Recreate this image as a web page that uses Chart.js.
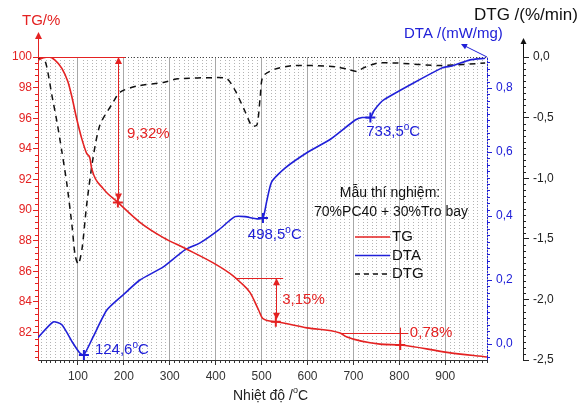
<!DOCTYPE html>
<html>
<head>
<meta charset="utf-8">
<script src="https://cdn.jsdelivr.net/npm/chart.js@4"></script>
<style>
  html, body { margin: 0; padding: 0; background: #fff; }
</style>
</head>
<body>
<canvas id="chart" width="582" height="404"></canvas>
<script>
// TG curve (% mass)
const tgTemp = [13, 25, 37, 50, 65, 78, 86, 97, 108, 119, 126, 130, 155, 187, 235, 286, 333, 403, 438, 453, 475, 493, 503, 531, 599, 671, 686, 758, 802, 904, 991];
const tgValue = [99.8, 99.95, 100, 99.8, 99.26, 98.4, 97.5, 96.0, 94.7, 93.7, 93.4, 92.7, 91.4, 90.5, 89.2, 88.2, 87.5, 86.4, 85.7, 85.3, 84.6, 83.5, 82.9, 82.7, 82.3, 81.96, 81.7, 81.24, 81.18, 80.7, 80.4];

// DTA curve (mW/mg)
const dtaTemp = [13, 46, 65, 89, 104, 113, 133, 163, 198, 235, 286, 333, 366, 406, 442, 464, 490, 503, 511, 522, 551, 602, 650, 704, 719, 737, 745, 766, 893, 915, 954, 987];
const dtaValue = [0.02, 0.069, 0.06, 0.003, -0.028, -0.034, 0.022, 0.106, 0.153, 0.2, 0.241, 0.294, 0.316, 0.356, 0.398, 0.398, 0.391, 0.394, 0.445, 0.507, 0.55, 0.601, 0.64, 0.70, 0.708, 0.708, 0.73, 0.763, 0.863, 0.869, 0.888, 0.893];

// DTG curve (%/min)
const dtgTemp = [13, 24, 32, 43, 54, 65, 76, 87, 94, 101, 109, 119, 133, 148, 174, 192, 228, 286, 318, 403, 425, 443, 464, 479, 490, 497, 503, 529, 573, 660, 686, 708, 722, 752, 795, 889, 987];
const dtgValue = [-0.02, 0, -0.08, -0.31, -0.53, -0.78, -1.05, -1.39, -1.64, -1.71, -1.58, -1.22, -0.83, -0.56, -0.39, -0.29, -0.24, -0.21, -0.18, -0.17, -0.18, -0.28, -0.45, -0.57, -0.56, -0.33, -0.16, -0.1, -0.07, -0.08, -0.1, -0.12, -0.09, -0.05, -0.05, -0.07, -0.05];

// marked points
const tgMarkTemp = [187, 531, 802];
const tgMarkValue = [90.5, 82.7, 81.18];
const lossLabels = ['9,32%', '3,15%', '0,78%'];
const dtaMarkTemp = [113, 503, 737];
const dtaMarkValue = [-0.034, 0.394, 0.708];
const peakLabels = ['124,6', '498,5', '733,5'];

const RED = '#e42222';
const BLUE = '#2020d8';
const FONT = "'Liberation Sans', Arial, sans-serif";

function pts(xs, ys) {
  return xs.map((x, i) => ({ x: x, y: ys[i] }));
}

function fmt1(v) {
  return v.toFixed(1).replace('.', ',');
}

function arrowHead(ctx, x, y, up, size) {
  const s = up ? 1 : -1;
  ctx.beginPath();
  ctx.moveTo(x, y);
  ctx.lineTo(x - size / 2, y + s * size);
  ctx.lineTo(x + size / 2, y + s * size);
  ctx.closePath();
  ctx.fill();
}

// text like "124,6 °C" with a raised small o
function degText(ctx, pre, x, y, size) {
  ctx.font = size + 'px ' + FONT;
  const w1 = ctx.measureText(pre).width;
  ctx.font = Math.round(size * 0.65) + 'px ' + FONT;
  const w2 = ctx.measureText('o').width;
  ctx.textAlign = 'left';
  ctx.textBaseline = 'middle';
  ctx.font = size + 'px ' + FONT;
  ctx.fillText(pre, x, y);
  ctx.font = Math.round(size * 0.65) + 'px ' + FONT;
  ctx.fillText('o', x + w1, y - size * 0.33);
  ctx.font = size + 'px ' + FONT;
  ctx.fillText('C', x + w1 + w2, y);
}

const decor = {
  id: 'decor',
  beforeDatasetsDraw(chart) {
    const { ctx, chartArea: a, scales } = chart;
    const x = scales.x;
    ctx.save();
    ctx.lineWidth = 1;
    ctx.setLineDash([1, 2]);
    ctx.strokeStyle = '#b4b4b4';
    for (let t = 20; t < x.max; t += 10) {
      if (t % 100 === 0) continue;
      const px = Math.round(x.getPixelForValue(t)) + 0.5;
      ctx.beginPath();
      ctx.moveTo(px, a.top);
      ctx.lineTo(px, a.bottom);
      ctx.stroke();
    }
    ctx.strokeStyle = '#444';
    ctx.beginPath();
    ctx.moveTo(a.left, a.top + 0.5);
    ctx.lineTo(a.right, a.top + 0.5);
    ctx.stroke();
    ctx.restore();
  },
  afterDraw(chart) {
    const { ctx, chartArea: a, scales } = chart;
    const x = scales.x, yT = scales.yTG, yA = scales.yDTA, yG = scales.yDTG;
    ctx.save();
    ctx.lineWidth = 1;

    // minor ticks
    ctx.strokeStyle = '#333';
    for (let t = 20; t < x.max; t += 10) {
      if (t % 100 === 0) continue;
      const px = Math.round(x.getPixelForValue(t)) + 0.5;
      ctx.beginPath(); ctx.moveTo(px, a.bottom); ctx.lineTo(px, a.bottom + 3); ctx.stroke();
    }
    ctx.strokeStyle = RED;
    for (let i = Math.ceil(yT.min / 0.4); i * 0.4 <= yT.max + 1e-6; i++) {
      const v = i * 0.4;
      if (Math.abs(v / 2 - Math.round(v / 2)) < 1e-6) continue;
      const py = Math.round(yT.getPixelForValue(v)) + 0.5;
      ctx.beginPath(); ctx.moveTo(a.left - 3, py); ctx.lineTo(a.left, py); ctx.stroke();
    }
    ctx.strokeStyle = BLUE;
    for (let i = Math.ceil(yA.min / 0.02); i * 0.02 <= yA.max + 1e-6; i++) {
      if (i % 10 === 0) continue;
      const py = Math.round(yA.getPixelForValue(i * 0.02)) + 0.5;
      ctx.beginPath(); ctx.moveTo(a.right, py); ctx.lineTo(a.right + 3, py); ctx.stroke();
    }
    ctx.strokeStyle = '#222';
    for (let i = -50; i <= 0; i++) {
      if (i % 10 === 0) continue;
      const py = Math.round(yG.getPixelForValue(i * 0.05)) + 0.5;
      ctx.beginPath(); ctx.moveTo(yG.left, py); ctx.lineTo(yG.left + 3, py); ctx.stroke();
    }

    // axis arrows
    ctx.fillStyle = RED; ctx.strokeStyle = RED;
    ctx.beginPath(); ctx.moveTo(a.left + 0.5, a.top); ctx.lineTo(a.left + 0.5, 36); ctx.stroke();
    arrowHead(ctx, a.left + 0.5, 32, true, 7);
    ctx.fillStyle = '#111'; ctx.strokeStyle = '#111';
    ctx.beginPath(); ctx.moveTo(yG.left + 0.5, a.top); ctx.lineTo(yG.left + 0.5, 42); ctx.stroke();
    arrowHead(ctx, yG.left + 0.5, 38, true, 6);
    ctx.fillStyle = BLUE; ctx.strokeStyle = BLUE;
    ctx.beginPath(); ctx.moveTo(a.right, a.top); ctx.lineTo(463, 45); ctx.stroke();
    ctx.save();
    ctx.translate(461, 44);
    ctx.rotate(Math.atan2(a.top - 44, a.right - 461) - Math.PI / 2);
    arrowHead(ctx, 0, 0, true, 6);
    ctx.restore();

    // axis titles
    ctx.textBaseline = 'middle';
    ctx.textAlign = 'left';
    ctx.fillStyle = RED;
    ctx.font = '15px ' + FONT;
    ctx.fillText('TG/%', 22, 21);
    ctx.fillStyle = '#111';
    ctx.font = '17px ' + FONT;
    ctx.fillText('DTG /(%/min)', 474, 15);
    ctx.fillStyle = BLUE;
    ctx.font = '15px ' + FONT;
    ctx.fillText('DTA /(mW/mg)', 404, 34);
    ctx.fillStyle = '#222';
    ctx.font = '14px ' + FONT;
    ctx.fillText('Nhiệt độ /', 233, 396);
    const nw = ctx.measureText('Nhiệt độ /').width;
    ctx.font = '9px ' + FONT;
    ctx.fillText('o', 233 + nw, 391);
    const ow = ctx.measureText('o').width;
    ctx.font = '14px ' + FONT;
    ctx.fillText('C', 233 + nw + ow, 396);

    // mass loss annotations
    ctx.strokeStyle = RED; ctx.fillStyle = RED;
    const loss = [
      { top: 100, from: 13, to: 203, lx: 207, ly: 95.0, arrow: true },
      { top: 85.55, from: 443, to: 547, lx: 545, ly: 84.1, arrow: true },
      { top: 81.99, from: 671, to: 819, lx: 823, ly: 81.97, arrow: false }
    ];
    loss.forEach((d, i) => {
      const yTop = yT.getPixelForValue(d.top);
      const yBot = yT.getPixelForValue(tgMarkValue[i]);
      const px = Math.round(x.getPixelForValue(tgMarkTemp[i])) + 0.5;
      ctx.beginPath();
      ctx.moveTo(x.getPixelForValue(d.from), Math.round(yTop) + 0.5);
      ctx.lineTo(x.getPixelForValue(d.to), Math.round(yTop) + 0.5);
      ctx.stroke();
      if (d.arrow) {
        ctx.beginPath(); ctx.moveTo(px, yTop + 4); ctx.lineTo(px, yBot - 4); ctx.stroke();
        arrowHead(ctx, px, yTop, true, 7);
        arrowHead(ctx, px, yBot - 2, false, 7);
      } else {
        ctx.beginPath(); ctx.moveTo(px, yTop - 5); ctx.lineTo(px, yBot + 2); ctx.stroke();
      }
      ctx.font = '15px ' + FONT;
      ctx.textAlign = 'left';
      ctx.fillText(lossLabels[i], x.getPixelForValue(d.lx), yT.getPixelForValue(d.ly));
    });

    // DTA peak labels
    ctx.fillStyle = BLUE;
    const peakPos = [[137, -0.019], [470, 0.341], [728, 0.663]];
    peakLabels.forEach((s, i) => {
      degText(ctx, s, x.getPixelForValue(peakPos[i][0]), yA.getPixelForValue(peakPos[i][1]), 15);
    });

    // legend block
    ctx.fillStyle = '#111';
    ctx.textAlign = 'center';
    ctx.font = '14px ' + FONT;
    ctx.fillText('Mẫu thí nghiệm:', 390, 193);
    ctx.fillText('70%PC40 + 30%Tro bay', 391, 212);
    const items = [['TG', RED, []], ['DTA', BLUE, []], ['DTG', '#111', [5, 4]]];
    items.forEach((it, i) => {
      const ly = 237 + i * 18.5;
      ctx.strokeStyle = it[1];
      ctx.lineWidth = 1.5;
      ctx.setLineDash(it[2]);
      ctx.beginPath(); ctx.moveTo(355, ly); ctx.lineTo(390, ly); ctx.stroke();
      ctx.setLineDash([]);
      ctx.fillStyle = '#111';
      ctx.textAlign = 'left';
      ctx.font = '15px ' + FONT;
      ctx.fillText(it[0], 392, ly);
    });
    ctx.restore();
  }
};

new Chart(document.getElementById('chart'), {
  type: 'line',
  data: {
    datasets: [
      {
        label: 'TG marks', data: pts(tgMarkTemp, tgMarkValue), yAxisID: 'yTG', showLine: false,
        pointStyle: 'cross', pointRadius: 5, borderColor: RED, borderWidth: 2, order: 0
      },
      {
        label: 'DTA marks', data: pts(dtaMarkTemp, dtaMarkValue), yAxisID: 'yDTA', showLine: false,
        pointStyle: 'cross', pointRadius: 5, borderColor: BLUE, borderWidth: 2, order: 0
      },
      {
        label: 'TG', data: pts(tgTemp, tgValue), yAxisID: 'yTG', borderColor: RED, borderWidth: 1.6,
        pointRadius: 0, cubicInterpolationMode: 'monotone', order: 1
      },
      {
        label: 'DTA', data: pts(dtaTemp, dtaValue), yAxisID: 'yDTA', borderColor: BLUE, borderWidth: 1.6,
        pointRadius: 0, tension: 0.2, order: 2
      },
      {
        label: 'DTG', data: pts(dtgTemp, dtgValue), yAxisID: 'yDTG', borderColor: '#111', borderWidth: 1.5,
        borderDash: [6, 5], pointRadius: 0, tension: 0.25, order: 3
      }
    ]
  },
  options: {
    responsive: false,
    animation: false,
    layout: { padding: { top: 57, left: 0, right: 0, bottom: 0 } },
    plugins: { legend: { display: false }, tooltip: { enabled: false } },
    scales: {
      x: {
        type: 'linear', min: 13, max: 991,
        afterFit: s => { s.height = 44; },
        border: { color: '#333', width: 1 },
        grid: { color: '#a8a8a8', tickColor: '#333', tickLength: 5 },
        ticks: { stepSize: 100, includeBounds: false, padding: 4, color: '#333', font: { family: FONT, size: 12 } }
      },
      yTG: {
        position: 'left', min: 80.2, max: 100,
        afterFit: s => { s.width = 38; },
        border: { color: RED, width: 1 },
        grid: { drawOnChartArea: false, tickColor: RED, tickLength: 5 },
        ticks: { stepSize: 2, includeBounds: false, padding: 1, color: RED, font: { family: FONT, size: 12 } }
      },
      yDTA: {
        position: 'right', min: -0.05, max: 0.897, weight: 0,
        afterFit: s => { s.width = 36; },
        border: { color: BLUE, width: 1 },
        grid: { drawOnChartArea: false, tickColor: BLUE, tickLength: 5 },
        ticks: { stepSize: 0.2, includeBounds: false, padding: 4, color: BLUE, font: { family: FONT, size: 12 }, callback: v => fmt1(v) }
      },
      yDTG: {
        position: 'right', min: -2.5, max: 0, weight: 1,
        afterFit: s => { s.width = 59; },
        border: { color: '#222', width: 1 },
        grid: { drawOnChartArea: false, tickColor: '#222', tickLength: 6 },
        ticks: { stepSize: 0.5, padding: 4, color: '#222', font: { family: FONT, size: 12 }, callback: v => fmt1(v) }
      }
    }
  },
  plugins: [decor]
});
</script>
</body>
</html>
